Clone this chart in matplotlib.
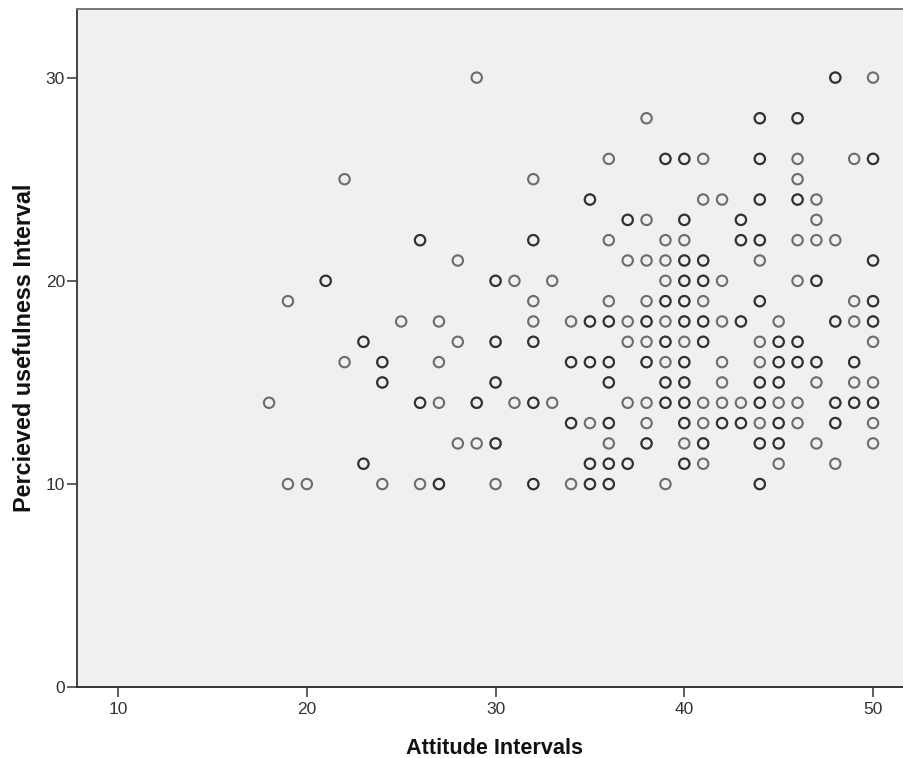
import matplotlib
matplotlib.use("Agg")
import matplotlib.pyplot as plt

# y level of each row of circles
y_levels = list(range(30, 9, -1))

# attitude values seen once at each level (pale rings)
once = {
    30: [29, 50],
    29: [],
    28: [38],
    27: [],
    26: [36, 41, 46, 49],
    25: [22, 32, 46],
    24: [41, 42, 47],
    23: [38, 47],
    22: [36, 39, 40, 46, 47, 48],
    21: [28, 37, 38, 39, 44],
    20: [31, 33, 39, 42, 46],
    19: [19, 32, 36, 38, 41, 49],
    18: [25, 27, 32, 34, 37, 39, 42, 45, 49],
    17: [28, 37, 38, 40, 44, 50],
    16: [22, 27, 39, 42, 44],
    15: [42, 47, 49, 50],
    14: [18, 27, 31, 33, 37, 38, 41, 42, 43, 45, 46],
    13: [35, 38, 41, 44, 46, 50],
    12: [28, 29, 36, 40, 47, 50],
    11: [41, 45, 48],
    10: [19, 20, 24, 26, 30, 34, 39],
}

# values seen more than once, the overlap makes these rings darker
repeated = {
    30: [48],
    29: [],
    28: [44, 46],
    27: [],
    26: [39, 40, 44, 50],
    25: [],
    24: [35, 44, 46],
    23: [37, 40, 43],
    22: [26, 32, 43, 44],
    21: [40, 41, 50],
    20: [21, 30, 40, 41, 47],
    19: [39, 40, 44, 50],
    18: [35, 36, 38, 40, 41, 43, 48, 50],
    17: [23, 30, 32, 39, 41, 45, 46],
    16: [24, 34, 35, 36, 38, 40, 45, 46, 47, 49],
    15: [24, 30, 36, 39, 40, 44, 45],
    14: [26, 29, 32, 39, 40, 44, 48, 49, 50],
    13: [34, 36, 40, 42, 43, 45, 48],
    12: [30, 38, 41, 44, 45],
    11: [23, 35, 36, 37, 40],
    10: [27, 32, 35, 36, 44],
}

x_ticks = [10, 20, 30, 40, 50]
y_ticks = [0, 10, 20, 30]

attitude = []
usefulness = []
for level in y_levels:
    for value in once[level]:
        attitude.append(value)
        usefulness.append(level)
    for value in repeated[level]:
        attitude.extend([value, value])
        usefulness.extend([level, level])

plt.rcParams['font.family'] = ['Liberation Sans', 'DejaVu Sans']

fig = plt.figure(figsize=(9.04, 7.58), dpi=100)
ax = fig.add_axes([77.5 / 904, 1 - 687.3 / 758, (904 - 77.5) / 904, (687.3 - 8.5) / 758])
ax.set_facecolor('#f0f0f0')

ax.scatter(attitude, usefulness, s=56, facecolors='none', edgecolors='black',
           linewidths=1.5, alpha=0.55, clip_on=False)

ax.set_xlim(7.85, 51.64)
ax.set_ylim(0, 33.4)
ax.set_xticks(x_ticks)
ax.set_yticks(y_ticks)
ax.tick_params(length=7, width=1.1, color='#333333', labelcolor='#333333',
               labelsize=12.5, pad=2)
ax.tick_params(axis='x', pad=3.5)

ax.spines['right'].set_visible(False)
ax.spines['left'].set_color('#444444')
ax.spines['bottom'].set_color('#333333')
ax.spines['top'].set_color('#777777')
for side in ['left', 'bottom', 'top']:
    ax.spines[side].set_linewidth(1.4)

ax.set_xlabel('Attitude Intervals', fontsize=15.6, fontweight='bold', color='#111111',
              labelpad=15.5, x=0.505)
ax.set_ylabel('Percieved usefulness Interval', fontsize=16.8, fontweight='bold', color='#111111',
              labelpad=7)

fig.savefig('out.png', dpi=100)
